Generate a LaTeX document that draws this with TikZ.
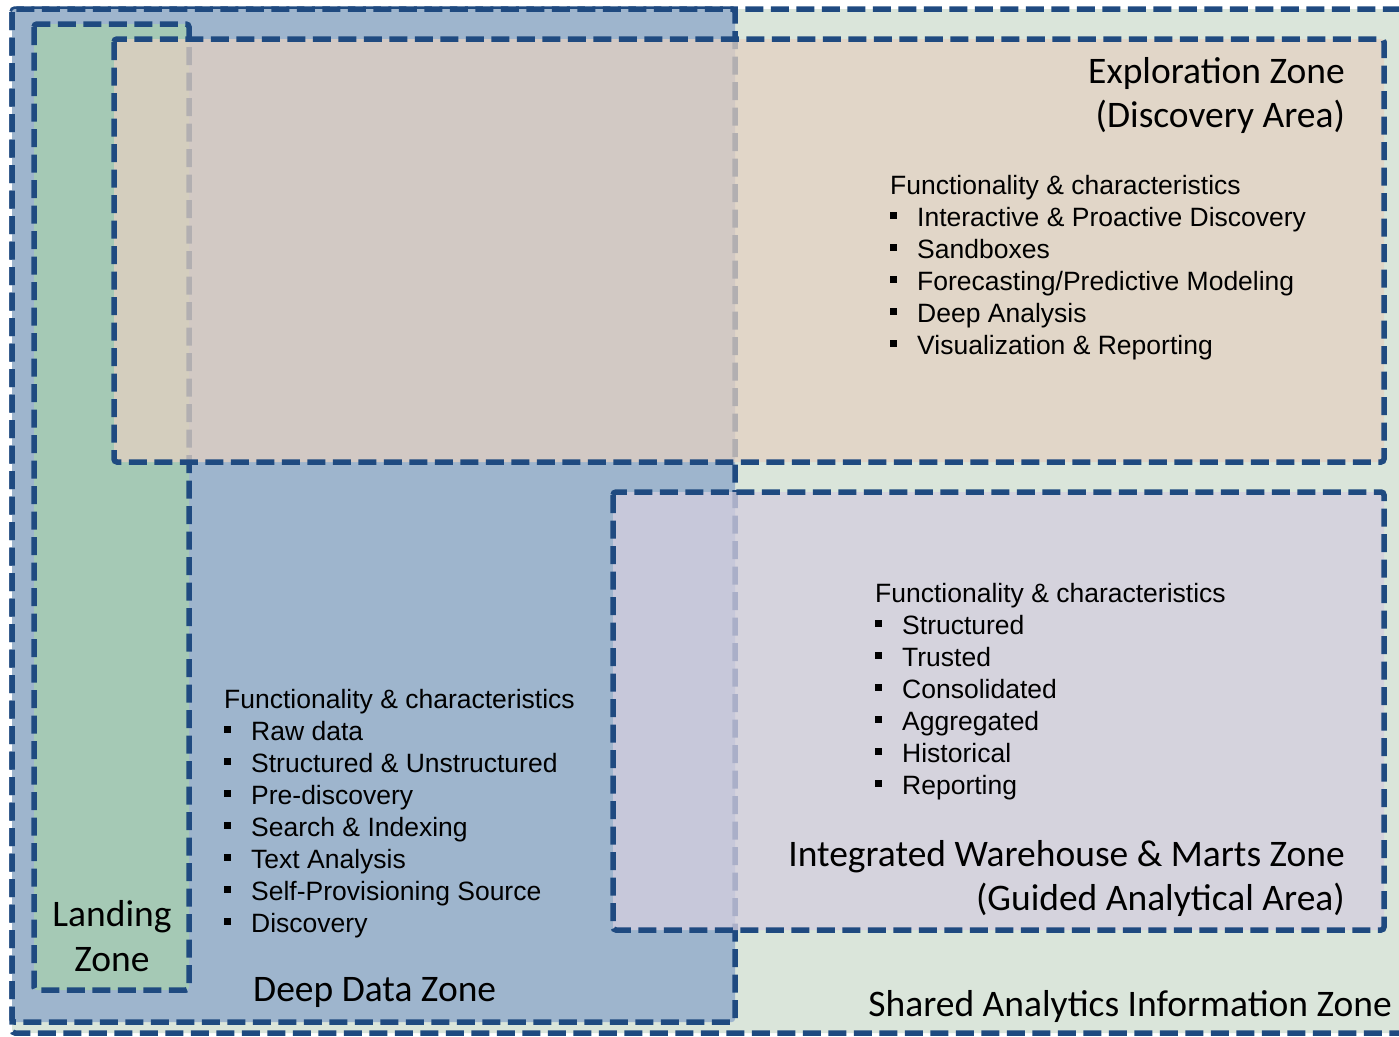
\documentclass[tikz,border=0pt]{standalone}
\usepackage{fontspec}
\setmainfont{Liberation Sans}
\newfontfamily\listfont{Liberation Sans}
\newfontfamily\titlefont{Carlito}
\definecolor{zoneblue}{HTML}{1F4A80}
\definecolor{sharedfill}{HTML}{DAE5DA}
\definecolor{deepfill}{HTML}{9EB5CD}
\definecolor{landfill}{HTML}{A5C9B5}
\definecolor{explfill}{HTML}{E4D1C2}
\definecolor{warefill}{HTML}{D4CEDE}
\newcommand\bul{\makebox[27pt][l]{\rule[7pt]{7pt}{7pt}}}
\begin{document}
\begin{tikzpicture}[x=1pt,y=-1pt]
\tikzset{
  zone/.style={draw=zoneblue, line width=5.5pt, dash pattern=on 18pt off 7.5pt, rounded corners=3pt},
  ztitle/.style={font=\titlefont\fontsize{37.5}{44}\selectfont, inner sep=0pt, text=black},
  zlist/.style={font=\listfont\fontsize{26.5}{32}\selectfont, inner sep=0pt, anchor=base west, text=black},
}
\path[use as bounding box, fill=white] (0,0) rectangle (1399,1036);
\clip (0,0) rectangle (1399,1036);
% zones
\draw[zone, fill=sharedfill] (12,9) rectangle (1420,1033);
\draw[zone, fill=deepfill] (12,9) rectangle (735,1022);
\draw[zone, fill=landfill] (34,24) rectangle (189,990);
\draw[zone, fill=explfill, fill opacity=0.75] (114,39) rectangle (1384,462);
\draw[zone, fill=warefill, fill opacity=0.77] (613,492) rectangle (1384,930);
% titles
\node[ztitle, anchor=base east] (expl1) at (1345,83) {Exploration Zone};
\node[ztitle, anchor=base east] (expl2) at (1345,127) {(Discovery Area)};
\node[ztitle, anchor=base east] (ware1) at (1345,866) {Integrated Warehouse \& Marts Zone};
\node[ztitle, anchor=base east] (ware2) at (1345,910) {(Guided Analytical Area)};
\node[ztitle, anchor=base west] (deep) at (253,1001) {Deep Data Zone};
\node[ztitle, anchor=base] (land1) at (112,926) {Landing};
\node[ztitle, anchor=base] (land2) at (112,971) {Zone};
\node[ztitle, anchor=base east] (shared) at (1392,1016) {Shared Analytics Information Zone};
% lists
\node[zlist] (expllist) at (890,194) {\begin{tabular}[t]{@{}l@{}}
Functionality \& characteristics\\
\bul Interactive \& Proactive Discovery\\
\bul Sandboxes\\
\bul Forecasting/Predictive Modeling\\
\bul Deep Analysis\\
\bul Visualization \& Reporting
\end{tabular}};
\node[zlist] (warelist) at (875,602) {\begin{tabular}[t]{@{}l@{}}
Functionality \& characteristics\\
\bul Structured\\
\bul Trusted\\
\bul Consolidated\\
\bul Aggregated\\
\bul Historical\\
\bul Reporting
\end{tabular}};
\node[zlist] (deeplist) at (224,708) {\begin{tabular}[t]{@{}l@{}}
Functionality \& characteristics\\
\bul Raw data\\
\bul Structured \& Unstructured\\
\bul Pre-discovery\\
\bul Search \& Indexing\\
\bul Text Analysis\\
\bul Self-Provisioning Source\\
\bul Discovery
\end{tabular}};
\end{tikzpicture}
\end{document}
